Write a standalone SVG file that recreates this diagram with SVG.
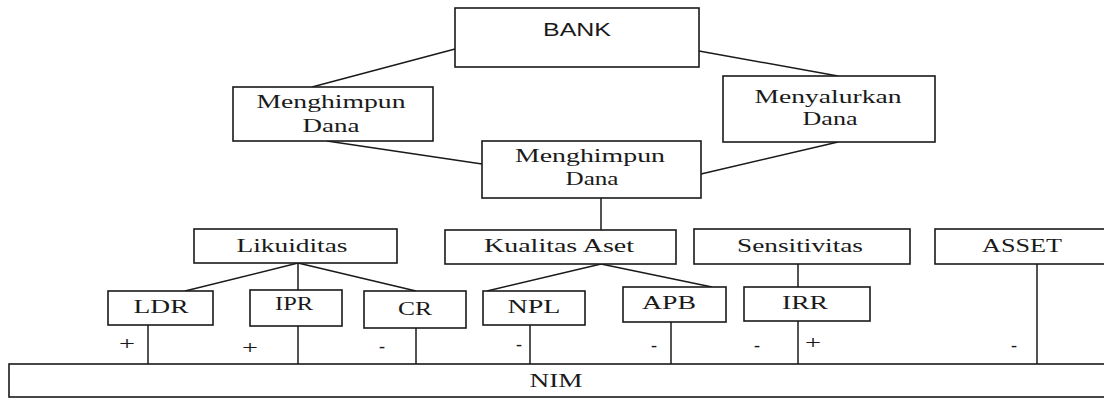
<svg xmlns="http://www.w3.org/2000/svg" width="1104" height="399" viewBox="0 0 1104 399">
<style>
rect{fill:#fff;stroke:#1a1a1a;stroke-width:1.6}
line{stroke:#1a1a1a;stroke-width:1.5}
text{font-family:"Liberation Serif","Times New Roman",serif;font-size:18px;fill:#1a1a1a;text-anchor:middle}
.sans{font-family:"Liberation Sans",Arial,sans-serif}
.l2{font-size:19px}
</style>
<rect x="0" y="0" width="1104" height="399" style="fill:#fff;stroke:none"/>
<g id="connectors">
<line x1="455" y1="49" x2="312" y2="87"/>
<line x1="699" y1="51" x2="838" y2="76"/>
<line x1="327" y1="141" x2="482" y2="164"/>
<line x1="838" y1="142" x2="701" y2="174"/>
<line x1="601" y1="198" x2="601" y2="230"/>
<line x1="298" y1="263" x2="185" y2="291"/>
<line x1="298" y1="263" x2="298" y2="290"/>
<line x1="298" y1="263" x2="416" y2="291"/>
<line x1="601" y1="264" x2="487" y2="291"/>
<line x1="601" y1="264" x2="712" y2="287"/>
<line x1="798" y1="264" x2="798" y2="287"/>
<line x1="1037" y1="264" x2="1037" y2="364"/>
<line x1="148" y1="325" x2="148" y2="364"/>
<line x1="298" y1="326" x2="298" y2="364"/>
<line x1="416" y1="328" x2="416" y2="364"/>
<line x1="530" y1="325" x2="530" y2="364"/>
<line x1="671" y1="322" x2="671" y2="364"/>
<line x1="798" y1="321" x2="798" y2="364"/>
</g>
<g id="signs">
<text x="127" y="350" textLength="16" lengthAdjust="spacingAndGlyphs">+</text>
<text x="250" y="354" textLength="16" lengthAdjust="spacingAndGlyphs">+</text>
<text x="382" y="352">-</text>
<text x="519" y="350">-</text>
<text x="654" y="351">-</text>
<text x="757" y="351">-</text>
<text x="813" y="349" textLength="16" lengthAdjust="spacingAndGlyphs">+</text>
<text x="1014" y="351">-</text>
</g>
<g id="bank"><rect x="455" y="8" width="244" height="59"/><text class="sans" x="577" y="36" textLength="68" lengthAdjust="spacingAndGlyphs">BANK</text></g>
<g id="menghimpun1"><rect x="233" y="87" width="200" height="54"/><text class="l2" x="331" y="108" textLength="149" lengthAdjust="spacingAndGlyphs">Menghimpun</text><text class="l2" x="331" y="132" textLength="57" lengthAdjust="spacingAndGlyphs">Dana</text></g>
<g id="menyalurkan"><rect x="723" y="76" width="212" height="66"/><text class="l2" x="828" y="103" textLength="147" lengthAdjust="spacingAndGlyphs">Menyalurkan</text><text class="l2" x="830" y="125" textLength="55" lengthAdjust="spacingAndGlyphs">Dana</text></g>
<g id="menghimpun2"><rect x="482" y="141" width="219" height="57"/><text class="l2" x="590" y="162" textLength="150" lengthAdjust="spacingAndGlyphs">Menghimpun</text><text class="l2" x="592" y="185" textLength="53" lengthAdjust="spacingAndGlyphs">Dana</text></g>
<g id="likuiditas"><rect x="194" y="229" width="203" height="34"/><text x="292" y="252" textLength="111" lengthAdjust="spacingAndGlyphs">Likuiditas</text></g>
<g id="kualitas"><rect x="445" y="230" width="231" height="34"/><text x="559" y="252" textLength="150" lengthAdjust="spacingAndGlyphs">Kualitas Aset</text></g>
<g id="sensitivitas"><rect x="694" y="229" width="216" height="35"/><text x="800" y="252" textLength="126" lengthAdjust="spacingAndGlyphs">Sensitivitas</text></g>
<g id="asset"><rect x="935" y="229" width="180" height="35"/><text x="1022" y="252" textLength="80" lengthAdjust="spacingAndGlyphs">ASSET</text></g>
<g id="ldr"><rect x="108" y="291" width="105" height="34"/><text x="161" y="313" textLength="55" lengthAdjust="spacingAndGlyphs">LDR</text></g>
<g id="ipr"><rect x="250" y="290" width="92" height="36"/><text x="294" y="310" textLength="38" lengthAdjust="spacingAndGlyphs">IPR</text></g>
<g id="cr"><rect x="364" y="291" width="102" height="37"/><text x="415" y="315" textLength="34" lengthAdjust="spacingAndGlyphs">CR</text></g>
<g id="npl"><rect x="483" y="291" width="102" height="34"/><text x="534" y="313" textLength="53" lengthAdjust="spacingAndGlyphs">NPL</text></g>
<g id="apb"><rect x="623" y="287" width="103" height="35"/><text x="669" y="309" textLength="54" lengthAdjust="spacingAndGlyphs">APB</text></g>
<g id="irr"><rect x="744" y="287" width="126" height="34"/><text x="805" y="309" textLength="46" lengthAdjust="spacingAndGlyphs">IRR</text></g>
<g id="nim"><rect x="9" y="364" width="1110" height="33"/><text x="556" y="387" textLength="53" lengthAdjust="spacingAndGlyphs">NIM</text></g>
</svg>
